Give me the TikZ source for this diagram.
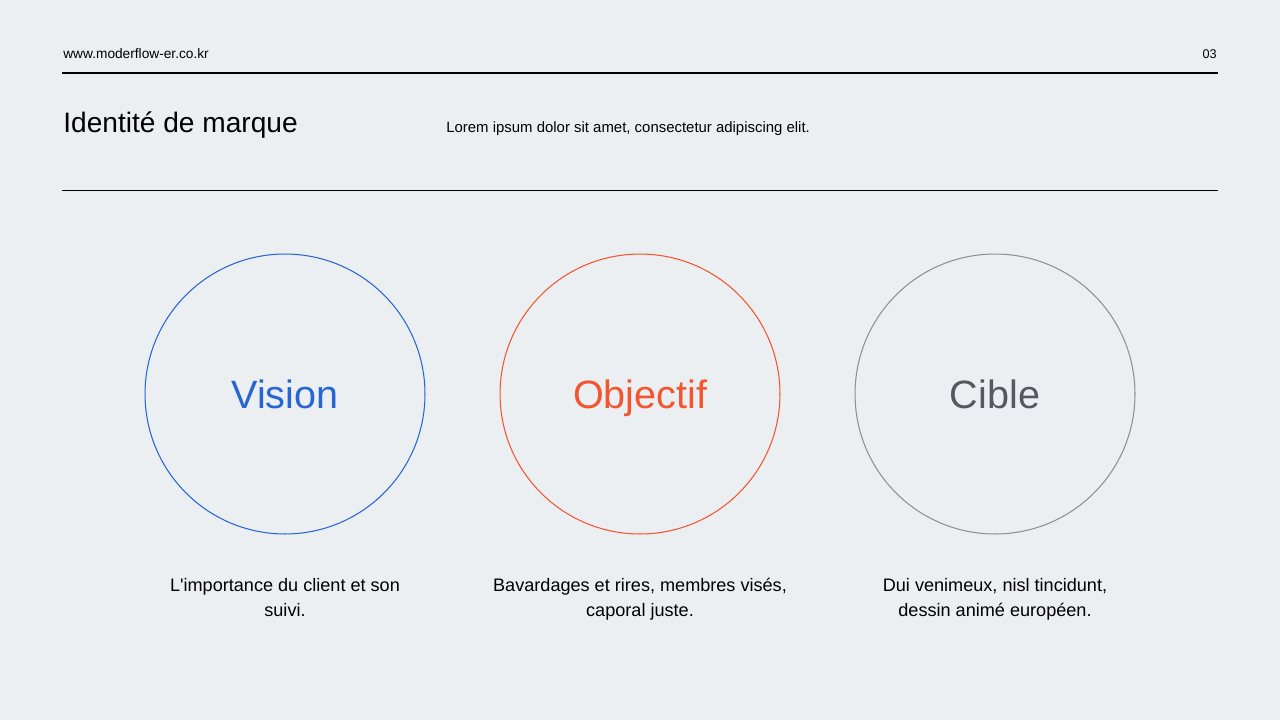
\documentclass[tikz,border=0pt]{standalone}
\usepackage{fontspec}
\setmainfont{Liberation Sans}[Ligatures=TeXOff]
\definecolor{pagebg}{HTML}{ECEFF2}
\definecolor{visionblue}{HTML}{2766D2}
\definecolor{goalred}{HTML}{F2552F}
\definecolor{targetgrey}{HTML}{8E9094}
\definecolor{labelgrey}{HTML}{55595E}
\begin{document}
\begin{tikzpicture}
		[	x=0.02cm,y=-0.02cm,
		ring/.style={circle,draw,line width=0.6pt,minimum size=5.6cm,inner sep=0pt},
		ringlabel/.style={anchor=base,font=\fontsize{22.5}{27}\selectfont},
		caption/.style={anchor=base,align=center,font=\fontsize{10.3}{14.2}\selectfont,text=black},
		plain/.style={draw=none,fill=none,inner sep=0pt},
		]
		\fill[pagebg] (0,0) rectangle (1280,720);
		\useasboundingbox (0,0) rectangle (1280,720);

		% header
		\node[plain,anchor=base west,font=\fontsize{7.8}{9}\selectfont,name=site] at (63,58){www.moderflow-er.co.kr};
		\node[plain,anchor=base east,font=\fontsize{7.2}{9}\selectfont,name=page] at (1217,58){03};
		\draw[line width=1.6pt] (62,73) -- (1218,73);

		\node[plain,anchor=base west,font=\fontsize{16}{18}\selectfont,name=title] at (63,132){Identité de marque};
		\node[plain,anchor=base west,font=\fontsize{8.5}{10}\selectfont,name=intro] at (446,132.5){Lorem ipsum dolor sit amet, consectetur adipiscing elit.};
		\draw[line width=0.5pt] (62,190) -- (1218,190);

		% rings
		\node[ring,draw=visionblue,name=vision] at (285,394){};
		\node[ring,draw=goalred,name=goal] at (640,394){};
		\node[ring,draw=targetgrey,name=target] at (995,394){};

		\node[plain,ringlabel,text=visionblue] at ([yshift=-0.28cm]vision.center){Vision};
		\node[plain,ringlabel,text=goalred] at ([yshift=-0.28cm]goal.center){Objectif};
		\node[plain,ringlabel,text=labelgrey] at ([yshift=-0.28cm]target.center){Cible};

		\node[plain,caption] at (285,616){L'importance du client et son\\suivi.};
		\node[plain,caption] at (640,616){Bavardages et rires, membres visés,\\caporal juste.};
		\node[plain,caption] at (995,616){Dui venimeux, nisl tincidunt,\\dessin animé européen.};
	\end{tikzpicture}
\end{document}
